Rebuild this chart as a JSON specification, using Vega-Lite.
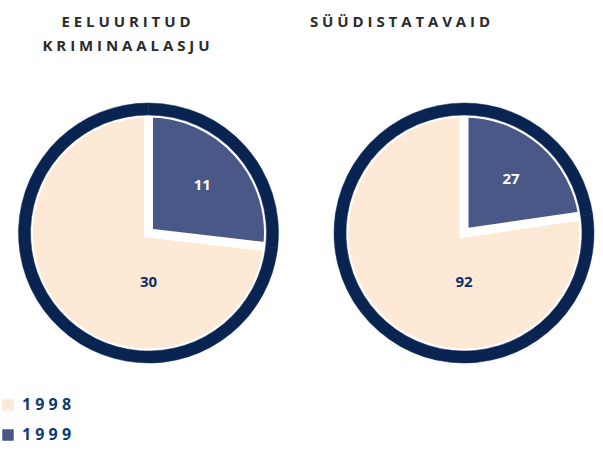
{
  "$schema": "https://vega.github.io/schema/vega-lite/v6.json",
  "background": "white",
  "padding": {"left": 0, "top": 15, "right": 0, "bottom": 0},
  "spacing": 37,
  "bounds": "flush",
  "datasets": {
    "pies": [
      {"group": "EELUURITUD KRIMINAALASJU", "year": "1998", "count": 30},
      {"group": "EELUURITUD KRIMINAALASJU", "year": "1999", "count": 11},
      {"group": "SÜÜDISTATAVAID", "year": "1998", "count": 92},
      {"group": "SÜÜDISTATAVAID", "year": "1999", "count": 27}
    ]
  },
  "data": {"name": "pies"},
  "hconcat": [
    {
      "width": 297,
      "height": 264,
      "title": {
        "text": ["E E L U U R I T U D", "K R I M I N A A L A S J U"],
        "font": "Open Sans",
        "fontSize": 15,
        "fontWeight": "bold",
        "color": "#2a2a2a",
        "lineHeight": 24,
        "anchor": "middle",
        "dx": -22.5,
        "offset": 41
      },
      "transform": [{"filter": "datum.group === 'EELUURITUD KRIMINAALASJU'"}],
      "layer": [
        {
          "mark": {"type": "arc", "outerRadius": 120, "stroke": "white", "strokeWidth": 9, "strokeJoin": "miter"},
          "encoding": {
            "theta": {"field": "count", "type": "quantitative", "stack": true},
            "order": {"field": "year", "sort": "descending"},
            "color": {
              "field": "year",
              "type": "nominal",
              "scale": {"domain": ["1998", "1999"], "range": ["#fde9d6", "#4a5888"]},
              "legend": {
                "orient": "none",
                "legendX": 0,
                "legendY": 296,
                "title": null,
                "symbolType": "square",
                "symbolSize": 169,
                "symbolOpacity": 1,
                "labelFont": "Open Sans",
                "labelFontSize": 16,
                "labelFontWeight": "bold",
                "labelColor": "#0d3a70",
                "labelOffset": 6,
                "rowPadding": 10,
                "labelExpr": "join(split(datum.label, ''), ' ')",
                "encode": {
                  "symbols": {
                    "stroke": {"value": "#333333"},
                    "strokeWidth": {"value": 1.5}
                  }
                }
              }
            }
          }
        },
        {
          "mark": {"type": "arc", "innerRadius": 118, "outerRadius": 130, "color": "#0a2452", "stroke": "#0a2452", "strokeWidth": 0.5},
          "encoding": {
            "theta": {"field": "count", "type": "quantitative", "stack": true},
            "order": {"field": "year", "sort": "descending"}
          }
        },
        {
          "mark": {"type": "text", "radius": 72, "font": "Open Sans", "fontSize": 15, "fontWeight": "bold", "color": "white"},
          "encoding": {
            "theta": {"field": "count", "type": "quantitative", "stack": true},
            "order": {"field": "year", "sort": "descending"},
            "detail": {"field": "year"},
            "text": {"field": "count", "type": "quantitative"},
            "opacity": {"condition": {"test": "datum.year === '1999'", "value": 1}, "value": 0}
          }
        },
        {
          "transform": [{"filter": "datum.year === '1998'"}],
          "mark": {"type": "text", "theta": 3.14159, "radius": 49, "font": "Open Sans", "fontSize": 15, "fontWeight": "bold", "color": "#0d3068"},
          "encoding": {
            "text": {"field": "count", "type": "quantitative"}
          }
        }
      ]
    },
    {
      "width": 260,
      "height": 264,
      "title": {
        "text": "S Ü Ü D I S T A T A V A I D",
        "font": "Open Sans",
        "fontSize": 15,
        "fontWeight": "bold",
        "color": "#2a2a2a",
        "anchor": "middle",
        "dx": -64,
        "offset": 65
      },
      "transform": [{"filter": "datum.group === 'SÜÜDISTATAVAID'"}],
      "layer": [
        {
          "mark": {"type": "arc", "outerRadius": 120, "stroke": "white", "strokeWidth": 9, "strokeJoin": "miter"},
          "encoding": {
            "theta": {"field": "count", "type": "quantitative", "stack": true},
            "order": {"field": "year", "sort": "descending"},
            "color": {"field": "year", "type": "nominal", "legend": null}
          }
        },
        {
          "mark": {"type": "arc", "innerRadius": 118, "outerRadius": 130, "color": "#0a2452", "stroke": "#0a2452", "strokeWidth": 0.5},
          "encoding": {
            "theta": {"field": "count", "type": "quantitative", "stack": true},
            "order": {"field": "year", "sort": "descending"}
          }
        },
        {
          "mark": {"type": "text", "radius": 72, "font": "Open Sans", "fontSize": 15, "fontWeight": "bold", "color": "white"},
          "encoding": {
            "theta": {"field": "count", "type": "quantitative", "stack": true},
            "order": {"field": "year", "sort": "descending"},
            "detail": {"field": "year"},
            "text": {"field": "count", "type": "quantitative"},
            "opacity": {"condition": {"test": "datum.year === '1999'", "value": 1}, "value": 0}
          }
        },
        {
          "transform": [{"filter": "datum.year === '1998'"}],
          "mark": {"type": "text", "theta": 3.14159, "radius": 49, "font": "Open Sans", "fontSize": 15, "fontWeight": "bold", "color": "#0d3068"},
          "encoding": {
            "text": {"field": "count", "type": "quantitative"}
          }
        }
      ]
    }
  ],
  "config": {"view": {"stroke": null}}
}
